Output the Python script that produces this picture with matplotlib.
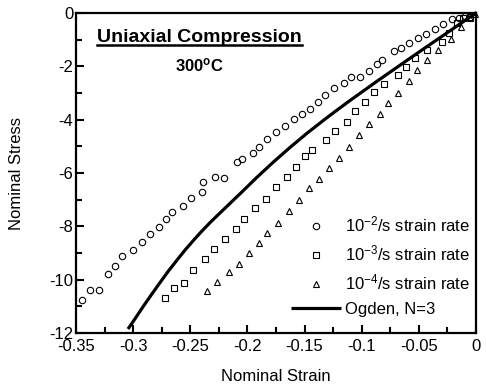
import matplotlib
matplotlib.use("Agg")
import matplotlib.pyplot as plt
from matplotlib.lines import Line2D
from matplotlib.ticker import MultipleLocator, FixedLocator

plt.rcParams['font.family'] = ['Liberation Sans', 'DejaVu Sans']
plt.rcParams['mathtext.fontset'] = 'custom'
plt.rcParams['mathtext.rm'] = 'Liberation Sans'
plt.rcParams['mathtext.it'] = 'Liberation Sans'
plt.rcParams['mathtext.bf'] = 'Liberation Sans:bold'

# ---- data ----
strain_c = [-0.345, -0.3375, -0.330, -0.322, -0.3155, -0.310, -0.300, -0.2925, -0.285, -0.277,
            -0.2715, -0.266, -0.256, -0.249, -0.240, -0.239, -0.228, -0.2205, -0.2094, -0.2047,
            -0.1954, -0.1896, -0.1826, -0.1750, -0.1671, -0.1595, -0.1525, -0.1455, -0.1382, -0.1318,
            -0.1240, -0.1158, -0.1090, -0.1015, -0.0933, -0.0870, -0.0820, -0.0720, -0.0656, -0.0590,
            -0.0507, -0.0437, -0.0355, -0.0286, -0.0206, -0.0150, -0.0100]
stress_c = [-10.75, -10.38, -10.38, -9.78, -9.47, -9.12, -8.88, -8.57, -8.30, -8.02,
            -7.74, -7.48, -7.22, -6.94, -6.70, -6.35, -6.14, -6.20, -5.60, -5.47,
            -5.26, -5.01, -4.73, -4.47, -4.25, -3.98, -3.80, -3.60, -3.34, -3.09,
            -2.83, -2.62, -2.40, -2.40, -2.18, -1.91, -1.76, -1.44, -1.32, -1.12,
            -0.95, -0.77, -0.60, -0.43, -0.24, -0.17, -0.13]

strain_s = [-0.2718, -0.264, -0.2558, -0.2473, -0.2368, -0.229, -0.2193, -0.210, -0.2033, -0.1931,
            -0.184, -0.1748, -0.1651, -0.1575, -0.1492, -0.1435, -0.1313, -0.1231, -0.1128, -0.1055,
            -0.0971, -0.0890, -0.0802, -0.0686, -0.0610, -0.0530, -0.0430, -0.0300, -0.0233, -0.0169,
            -0.0110, -0.0056]
stress_s = [-10.70, -10.32, -10.14, -9.65, -9.24, -8.84, -8.46, -8.10, -7.71, -7.32,
            -6.98, -6.54, -6.14, -5.76, -5.37, -5.14, -4.76, -4.41, -4.10, -3.67,
            -3.32, -2.95, -2.65, -2.32, -2.03, -1.70, -1.38, -1.08, -0.76, -0.38,
            -0.18, -0.15]

strain_t = [-0.2351, -0.2266, -0.2161, -0.2074, -0.1983, -0.1899, -0.1829, -0.1732, -0.1640, -0.1545,
            -0.1461, -0.1375, -0.1286, -0.1197, -0.1111, -0.1021, -0.0933, -0.0843, -0.0767, -0.0680,
            -0.0590, -0.0513, -0.0428, -0.0330, -0.0216, -0.0133, -0.0052, -0.0010]
stress_t = [-10.41, -10.07, -9.72, -9.40, -9.00, -8.61, -8.24, -7.86, -7.43, -7.00,
            -6.57, -6.23, -5.83, -5.43, -5.01, -4.57, -4.15, -3.80, -3.39, -2.99,
            -2.55, -2.12, -1.77, -1.40, -0.99, -0.52, -0.17, -0.02]

# Ogden N=3 fit curve
strain_o = [-0.3045, -0.2984, -0.2911, -0.2838, -0.2765, -0.2692, -0.2619, -0.2546, -0.2473, -0.2401,
            -0.2327, -0.2255, -0.2211, -0.2065, -0.1919, -0.1773, -0.1627, -0.1482, -0.1336, -0.1219,
            -0.1102, -0.0870, -0.0642, -0.0450, -0.0262, -0.0120, 0.0]
stress_o = [-11.85, -11.47, -11.00, -10.55, -10.11, -9.68, -9.28, -8.89, -8.53, -8.19,
            -7.86, -7.56, -7.38, -6.78, -6.17, -5.59, -5.04, -4.52, -4.03, -3.65,
            -3.28, -2.57, -1.89, -1.32, -0.77, -0.35, 0.0]

labels = [r'$10^{-2}$/s strain rate', r'$10^{-3}$/s strain rate',
          r'$10^{-4}$/s strain rate', 'Ogden, N=3']
xticks = [-0.35, -0.3, -0.25, -0.2, -0.15, -0.1, -0.05, 0]
xticklabels = ['-0.35', '-0.3', '-0.25', '-0.2', '-0.15', '-0.1', '-0.05', '0']
yticks = [0, -2, -4, -6, -8, -10, -12]
yticklabels = ['0', '-2', '-4', '-6', '-8', '-10', '-12']

fig = plt.figure(figsize=(4.86, 3.87), dpi=100)
ax = fig.add_axes([76/486, 1 - 333/387, 400/486, 320/387])

mk = dict(linestyle='none', markerfacecolor='none', markeredgecolor='black',
          markeredgewidth=0.8, clip_on=False)
ax.plot(strain_c, stress_c, marker='o', markersize=4.6, label=labels[0], **mk)
ax.plot(strain_s, stress_s, marker='s', markersize=4.4, label=labels[1], **mk)
ax.plot(strain_t, stress_t, marker='^', markersize=4.6, label=labels[2], **mk)
ax.plot(strain_o, stress_o, color='black', linewidth=2.3, label=labels[3],
        solid_joinstyle='round', solid_capstyle='butt')

ax.set_xlim(-0.35, 0)
ax.set_ylim(-12, 0)
ax.xaxis.set_major_locator(FixedLocator(xticks))
ax.set_xticklabels(xticklabels)
ax.yaxis.set_major_locator(FixedLocator(yticks))
ax.set_yticklabels(yticklabels)
ax.xaxis.set_minor_locator(MultipleLocator(0.025))
ax.yaxis.set_minor_locator(MultipleLocator(1))
ax.tick_params(which='both', direction='in', width=1.5, labelsize=12, colors='black')
ax.tick_params(which='major', length=5.5)
ax.tick_params(which='minor', length=4.5)
ax.tick_params(axis='y', pad=2)
ax.tick_params(axis='x', pad=4)
for s in ax.spines.values():
    s.set_linewidth(1.6)

ax.set_xlabel('Nominal Strain', fontsize=12, labelpad=11)
ax.set_ylabel('Nominal Stress', fontsize=12, labelpad=18)

leg = ax.legend(loc='lower right', bbox_to_anchor=(0.985, 0.051), frameon=False,
                fontsize=12, handlelength=3.0, handletextpad=0.25, labelspacing=0.55,
                borderaxespad=0, borderpad=0)

title = ax.text(0.309, 0.910, 'Uniaxial Compression', transform=ax.transAxes,
                ha='center', va='baseline', fontsize=14, fontweight='bold')
ax.text(0.308, 0.817, r'$\mathbf{300^{o}C}$', transform=ax.transAxes,
        ha='center', va='baseline', fontsize=12)

fig.canvas.draw()
bb = title.get_window_extent().transformed(ax.transAxes.inverted())
ax.add_line(Line2D([bb.x0, bb.x1], [0.899, 0.899], transform=ax.transAxes,
                   color='black', linewidth=1.8, clip_on=False))

fig.savefig('out.png', dpi=100)
